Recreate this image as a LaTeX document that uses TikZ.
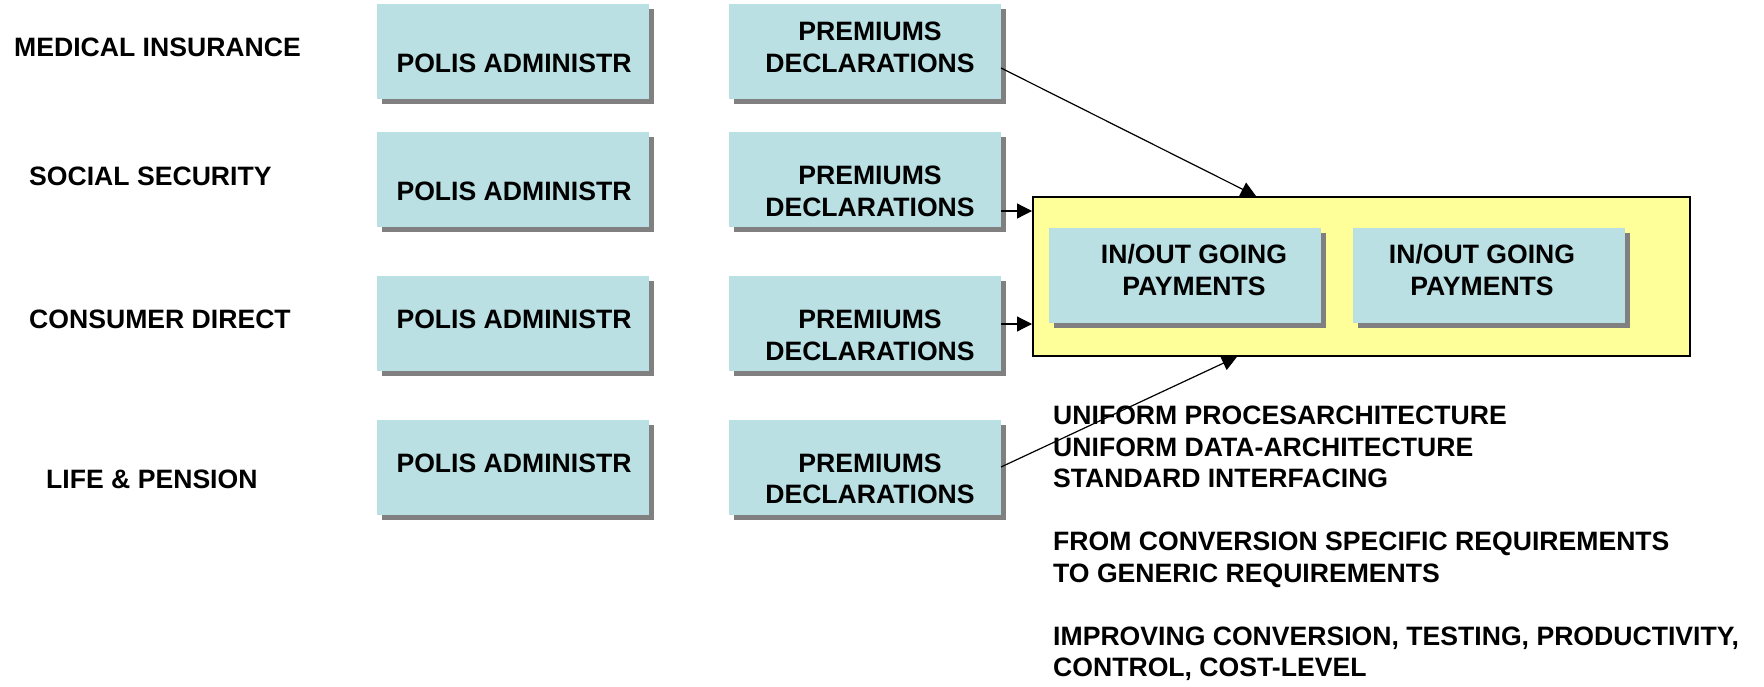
\documentclass[tikz,border=0pt]{standalone}
\usepackage{fontspec}
\setmainfont{Liberation Sans}
\usetikzlibrary{arrows.meta,calc,shadows}
\definecolor{boxblue}{HTML}{BAE0E3}
\definecolor{shadowgray}{HTML}{808080}
\definecolor{paleyellow}{HTML}{FFFF99}
\begin{document}
\begin{tikzpicture}[x=1pt,y=-1pt,
  bx/.style={fill=boxblue, draw=none, inner sep=0pt, outer sep=0pt,
    minimum width=272pt, minimum height=95pt, anchor=north west,
    drop shadow={shadow xshift=5pt, shadow yshift=-5pt, fill=shadowgray, opacity=1}},
  txt/.style={font=\fontsize{26.6}{31.5}\selectfont\bfseries, inner sep=0pt, anchor=base},
  ltxt/.style={txt, anchor=base west},
  arr/.style={line width=1.2pt, -{Triangle[length=15pt,width=15pt]}},
  ybox/.style={draw=black, line width=1.8pt, fill=paleyellow, inner sep=0pt,
    minimum width=657pt, minimum height=159pt, anchor=north west}
]
\useasboundingbox (0,0) rectangle (1764,686);

% left labels
\node[ltxt] (l1) at (14,56) {MEDICAL INSURANCE};
\node[ltxt] (l2) at (29,185) {SOCIAL SECURITY};
\node[ltxt] (l3) at (29,328) {CONSUMER DIRECT};
\node[ltxt] (l4) at (46,488) {LIFE \& PENSION};

% column 1 boxes
\node[bx] (a1) at (377,4) {};
\node[bx] (a2) at (377,132) {};
\node[bx] (a3) at (377,276) {};
\node[bx] (a4) at (377,420) {};
\node[txt] (ta1) at (514,72.3) {POLIS ADMINISTR};
\node[txt] (ta2) at (514,200.3) {POLIS ADMINISTR};
\node[txt] (ta3) at (514,328.8) {POLIS ADMINISTR};
\node[txt] (ta4) at (514,472.5) {POLIS ADMINISTR};

% column 2 boxes
\node[bx] (p1) at (729,4) {};
\node[bx] (p2) at (729,132) {};
\node[bx] (p3) at (729,276) {};
\node[bx] (p4) at (729,420) {};
\node[txt] (tp1a) at (870,40.8) {PREMIUMS};
\node[txt] (tp1b) at (870,72.3) {DECLARATIONS};
\node[txt] (tp2a) at (870,184.8) {PREMIUMS};
\node[txt] (tp2b) at (870,216.3) {DECLARATIONS};
\node[txt] (tp3a) at (870,328.8) {PREMIUMS};
\node[txt] (tp3b) at (870,360.3) {DECLARATIONS};
\node[txt] (tp4a) at (870,472.0) {PREMIUMS};
\node[txt] (tp4b) at (870,503.5) {DECLARATIONS};

% yellow container
\node[ybox] (Y) at (1032,196) {};
\node[bx] (i1) at (1049,228) {};
\node[bx] (i2) at (1353,228) {};
\node[txt] (ti1a) at (1194,263.5) {IN/OUT GOING};
\node[txt] (ti1b) at (1194,295.5) {PAYMENTS};
\node[txt] (ti2a) at (1482,263.5) {IN/OUT GOING};
\node[txt] (ti2b) at (1482,295.5) {PAYMENTS};

% arrows
\draw[arr] ($(p1.north east)+(0,64)$) -- ($(Y.north west)+(224,0)$);
\draw[arr] ($(p2.north east)+(0,79)$) -- ($(Y.north west)+(0,15)$);
\draw[arr] ($(p3.north east)+(0,48)$) -- ($(Y.north west)+(0,128)$);
\draw[arr] ($(p4.north east)+(0,47)$) -- ($(Y.south west)+(205,0)$);

% text block
\node[ltxt] (r1) at (1053,424.5) {UNIFORM PROCESARCHITECTURE};
\node[ltxt] (r2) at (1053,456) {UNIFORM DATA-ARCHITECTURE};
\node[ltxt] (r3) at (1053,487.5) {STANDARD INTERFACING};
\node[ltxt] (r4) at (1053,550.5) {FROM CONVERSION SPECIFIC REQUIREMENTS};
\node[ltxt] (r5) at (1053,582) {TO GENERIC REQUIREMENTS};
\node[ltxt] (r6) at (1053,645) {IMPROVING CONVERSION, TESTING, PRODUCTIVITY,};
\node[ltxt] (r7) at (1053,676.5) {CONTROL, COST-LEVEL};
\end{tikzpicture}
\end{document}
